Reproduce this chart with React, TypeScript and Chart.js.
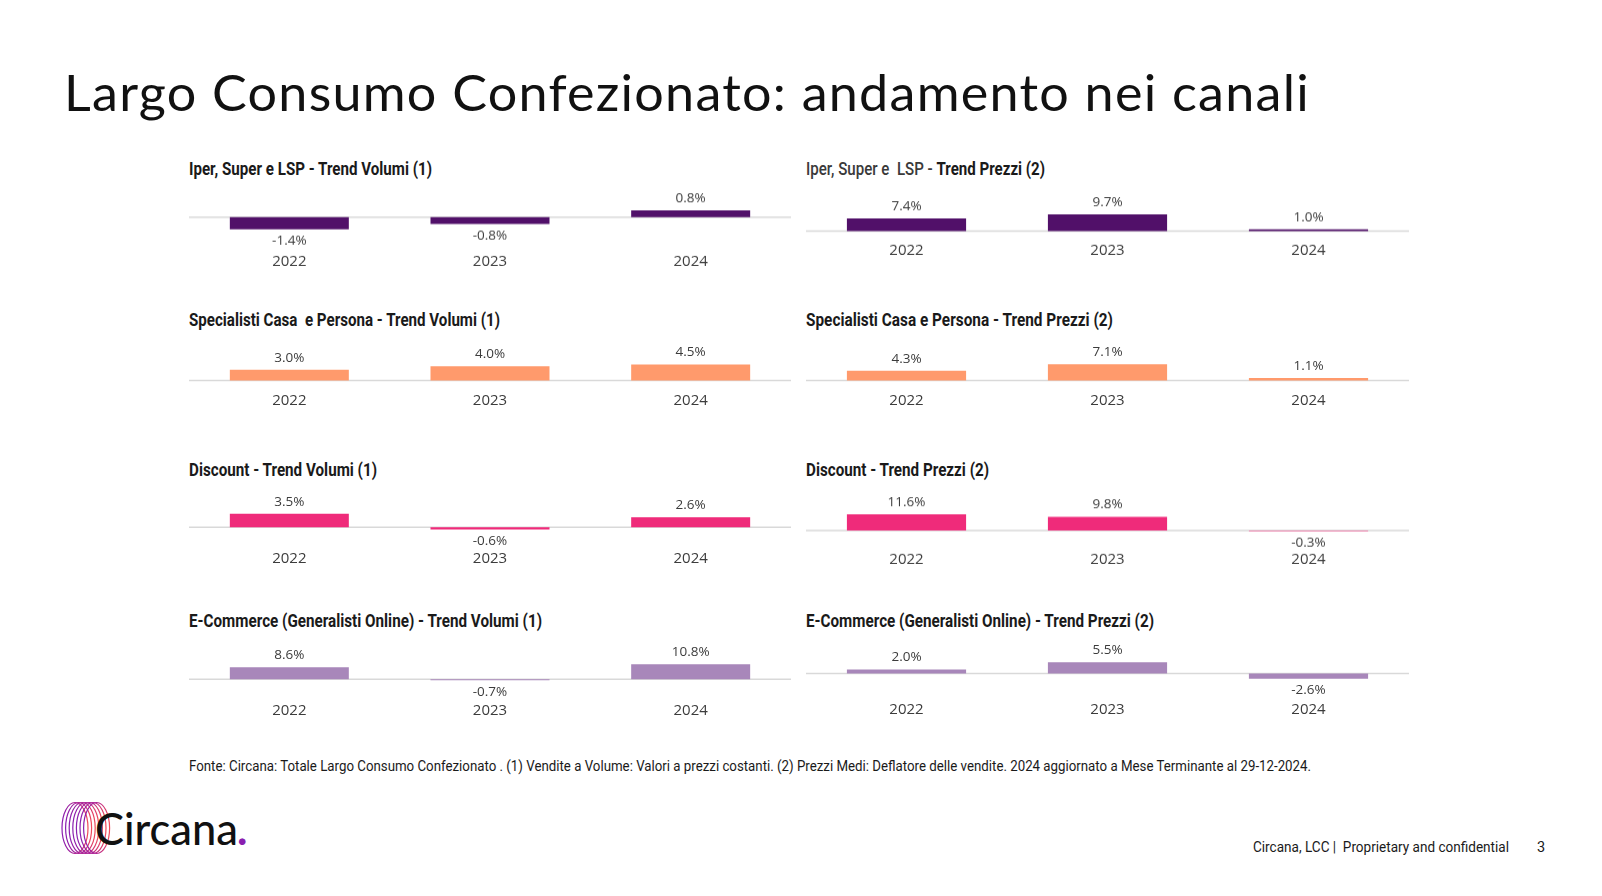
import React, { useEffect, useLayoutEffect, useRef } from "react";
import { Chart, registerables } from "chart.js";

Chart.register(...registerables);

// ---------- DATA ----------
const years = ["2022", "2023", "2024"];

const iperVolumi = [-1.4, -0.8, 0.8];
const iperPrezzi = [7.4, 9.7, 1.0];
const specialistiVolumi = [3.0, 4.0, 4.5];
const specialistiPrezzi = [4.3, 7.1, 1.1];
const discountVolumi = [3.5, -0.6, 2.6];
const discountPrezzi = [11.6, 9.8, -0.3];
const ecommerceVolumi = [8.6, -0.7, 10.8];
const ecommercePrezzi = [2.0, 5.5, -2.6];

const titleMain = "Largo Consumo Confezionato: andamento nei canali";
const footerText =
  "Fonte: Circana: Totale Largo Consumo Confezionato . (1) Vendite a Volume: Valori a prezzi costanti. (2) Prezzi Medi: Deflatore delle vendite. 2024 aggiornato a Mese Terminante al 29-12-2024.";
const confidentialText = "Circana, LCC |  Proprietary and confidential";
const pageNumber = "3";

// ---------- COLOURS / LAYOUT ----------
const PURPLE = "#511069";
const SALMON = "#FF9A6C";
const PINK = "#EF2B7A";
const LAVENDER = "#A887BA";

const COL_X = [189, 806];
const COL_W = [602, 603];

type Panel = {
  pre: string;
  bold: string;
  titleW: number;
  values: number[];
  color: string;
  col: number;
  titleY: number;
  zeroY: number;
  yearY: number;
  ppp: number; // pixels per percentage point
};

const panels: Panel[] = [
  { pre: "", bold: "Iper, Super e LSP - Trend Volumi (1)", titleW: 243, values: iperVolumi, color: PURPLE, col: 0, titleY: 169, zeroY: 219, yearY: 265.5, ppp: 9.0 },
  { pre: "Iper, Super e  LSP - ", bold: "Trend Prezzi (2)", titleW: 239, values: iperPrezzi, color: PURPLE, col: 1, titleY: 169, zeroY: 234, yearY: 254.5, ppp: 1.85 },
  { pre: "", bold: "Specialisti Casa  e Persona - Trend Volumi (1)", titleW: 311, values: specialistiVolumi, color: SALMON, col: 0, titleY: 320, zeroY: 384, yearY: 405.4, ppp: 3.9 },
  { pre: "", bold: "Specialisti Casa e Persona - Trend Prezzi (2)", titleW: 307, values: specialistiPrezzi, color: SALMON, col: 1, titleY: 320, zeroY: 384, yearY: 405.4, ppp: 2.5 },
  { pre: "", bold: "Discount - Trend Volumi (1)", titleW: 188, values: discountVolumi, color: PINK, col: 0, titleY: 470, zeroY: 529.5, yearY: 563.6, ppp: 4.1 },
  { pre: "", bold: "Discount - Trend Prezzi (2)", titleW: 183, values: discountPrezzi, color: PINK, col: 1, titleY: 470, zeroY: 532.9, yearY: 563.6, ppp: 1.49 },
  { pre: "", bold: "E-Commerce (Generalisti Online) - Trend Volumi (1)", titleW: 353, values: ecommerceVolumi, color: LAVENDER, col: 0, titleY: 621, zeroY: 681.7, yearY: 715.5, ppp: 1.49 },
  { pre: "", bold: "E-Commerce (Generalisti Online) - Trend Prezzi (2)", titleW: 348, values: ecommercePrezzi, color: LAVENDER, col: 1, titleY: 621, zeroY: 676.3, yearY: 715.5, ppp: 2.16 },
];

const SANS = '"Roboto", "Noto Sans", sans-serif';
const LABEL_FONT = '"Open Sans", "Noto Sans", sans-serif';
const TEXT = "#1A1A1A";
const LABEL_COLOR = "#3C3C3C";

// ---------- PLUGINS ----------
const zeroLine = {
  id: "zeroLine",
  beforeDatasetsDraw(chart: any) {
    const { ctx, chartArea } = chart;
    const y = chart.scales.y.getPixelForValue(0);
    ctx.save();
    ctx.strokeStyle = "#D9D9D9";
    ctx.lineWidth = 1.5;
    ctx.beginPath();
    ctx.moveTo(chartArea.left, y);
    ctx.lineTo(chartArea.right, y);
    ctx.stroke();
    ctx.restore();
  },
};

const valueLabels = {
  id: "valueLabels",
  afterDatasetsDraw(chart: any) {
    const { ctx } = chart;
    const meta = chart.getDatasetMeta(0);
    const data = chart.data.datasets[0].data as number[];
    ctx.save();
    ctx.font = `13.5px ${LABEL_FONT}`;
    ctx.fillStyle = LABEL_COLOR;
    ctx.textAlign = "center";
    ctx.textBaseline = "middle";
    meta.data.forEach((bar: any, i: number) => {
      const v = data[i];
      const y = v >= 0 ? bar.y - 12 : bar.y + 11.5;
      ctx.fillText(`${v.toFixed(1)}%`, bar.x, y);
    });
    ctx.restore();
  },
};

// ---------- TEXT FITTED TO A WIDTH ----------
function FitText({ width, style, children }: { width: number; style: React.CSSProperties; children: React.ReactNode }) {
  const ref = useRef<HTMLDivElement | null>(null);
  useLayoutEffect(() => {
    const el = ref.current;
    if (!el) return;
    el.style.transform = "none";
    const w = el.getBoundingClientRect().width;
    if (w > 0) el.style.transform = `scaleX(${width / w})`;
  }, [width]);
  return (
    <div ref={ref} style={{ position: "absolute", whiteSpace: "pre", transformOrigin: "0 50%", ...style }}>
      {children}
    </div>
  );
}

// ---------- CHART PANEL ----------
const CANVAS_ABOVE = 44;
const TICK_PAD = 4;
const TICK_FONT = 15;
const TICK_LH = TICK_FONT * 1.2;

function BarPanel({ p }: { p: Panel }) {
  const ref = useRef<HTMLCanvasElement | null>(null);
  const top = p.zeroY - CANVAS_ABOVE;
  const bottom = p.yearY + TICK_LH / 2 - 1;
  const height = bottom - top;
  const areaBottom = bottom - TICK_LH - TICK_PAD;
  const yMax = CANVAS_ABOVE / p.ppp;
  const yMin = -(areaBottom - p.zeroY) / p.ppp;

  useEffect(() => {
    if (!ref.current) return;
    const chart = new Chart(ref.current, {
      type: "bar",
      data: {
        labels: years,
        datasets: [
          {
            data: p.values,
            backgroundColor: p.color,
            borderWidth: 0,
            barPercentage: 0.593,
            categoryPercentage: 1.0,
          },
        ],
      },
      options: {
        animation: false,
        responsive: true,
        maintainAspectRatio: false,
        layout: { padding: 0 },
        plugins: { legend: { display: false }, tooltip: { enabled: false }, title: { display: false } },
        scales: {
          x: {
            type: "category",
            grid: { display: false, drawTicks: false, tickLength: 0 },
            border: { display: false },
            ticks: {
              padding: TICK_PAD,
              color: LABEL_COLOR,
              font: { family: LABEL_FONT, size: TICK_FONT },
              maxRotation: 0,
            },
          },
          y: { display: false, min: yMin, max: yMax },
        },
      },
      plugins: [zeroLine, valueLabels],
    });
    return () => chart.destroy();
  }, []);

  const TF = 18;
  return (
    <>
      <FitText
        width={p.titleW}
        style={{
          left: COL_X[p.col],
          top: p.titleY - 0.586 * TF,
          lineHeight: `${TF * 1.2}px`,
          fontFamily: SANS,
          fontSize: TF,
          fontWeight: 700,
          color: TEXT,
        }}
      >
        {p.pre && <span style={{ fontWeight: 500, color: "#3A3A3A" }}>{p.pre}</span>}
        {p.bold}
      </FitText>
      <div style={{ position: "absolute", left: COL_X[p.col], top, width: COL_W[p.col], height }}>
        <canvas ref={ref} />
      </div>
    </>
  );
}

function Logo() {
  const rings = [0, 1, 2, 3, 4, 5, 6];
  return (
    <svg width={60} height={60} style={{ position: "absolute", left: 59, top: 799 }} viewBox="0 0 60 60">
      <defs>
        <linearGradient id="rg" x1="0" x2="1" y1="0" y2="0">
          <stop offset="0" stopColor="#8A1FB0" />
          <stop offset="0.55" stopColor="#B0208F" />
          <stop offset="1" stopColor="#F04A5A" />
        </linearGradient>
      </defs>
      {rings.map((i) => (
        <ellipse key={i} cx={16 + i * 3.6} cy={29} rx={13} ry={25.5} fill="none" stroke="url(#rg)" strokeWidth={1.2} />
      ))}
    </svg>
  );
}

export default function App() {
  return (
    <div
      style={{
        position: "absolute",
        left: 0,
        top: 0,
        width: 1602,
        height: 896,
        background: "#fff",
        overflow: "hidden",
      }}
    >
      <FitText
        width={1246}
        style={{
          left: 64,
          top: 61.7,
          lineHeight: "60px",
          fontFamily: '"Lato", sans-serif',
          fontSize: 50,
          fontWeight: 400,
          letterSpacing: 1.2,
          color: "#111",
        }}
      >
        {titleMain}
      </FitText>

      {panels.map((p, i) => (
        <BarPanel key={i} p={p} />
      ))}

      <FitText
        width={1122}
        style={{
          left: 189,
          top: 766 - 0.586 * 14.5,
          lineHeight: `${14.5 * 1.2}px`,
          fontFamily: SANS,
          fontSize: 14.5,
          color: TEXT,
        }}
      >
        {footerText}
      </FitText>

      <Logo />
      <FitText
        width={143}
        style={{
          left: 95,
          top: 802,
          lineHeight: "52.8px",
          fontFamily: '"Lato", sans-serif',
          fontSize: 44,
          fontWeight: 500,
          color: "#111",
        }}
      >
        Circana
      </FitText>
      <div
        style={{
          position: "absolute",
          left: 237,
          top: 802,
          lineHeight: "52.8px",
          fontFamily: '"Lato", sans-serif',
          fontSize: 44,
          fontWeight: 700,
          color: "#8A1FB0",
        }}
      >
        .
      </div>

      <FitText
        width={256}
        style={{
          left: 1253,
          top: 847 - 0.586 * 14.5,
          lineHeight: `${14.5 * 1.2}px`,
          fontFamily: SANS,
          fontSize: 14.5,
          color: TEXT,
        }}
      >
        {confidentialText}
      </FitText>
      <div
        style={{
          position: "absolute",
          left: 1537,
          top: 847 - 0.586 * 14.5,
          lineHeight: `${14.5 * 1.2}px`,
          fontFamily: SANS,
          fontSize: 14.5,
          color: TEXT,
        }}
      >
        {pageNumber}
      </div>
    </div>
  );
}
